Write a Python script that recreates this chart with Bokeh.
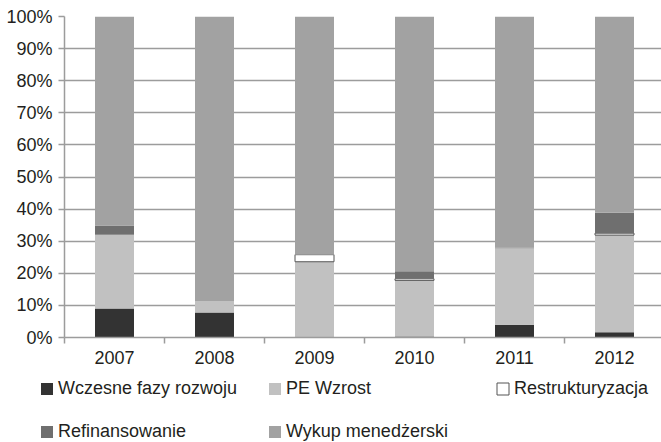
from bokeh.plotting import figure
from bokeh.layouts import column, row
from bokeh.models import (ColumnDataSource, FixedTicker, PrintfTickFormatter, Legend,
                          LegendItem, CDSView, BooleanFilter, Range1d)
from bokeh.embed import file_html
from bokeh.resources import INLINE

# ---- data (percent shares) ----
years = ["2007", "2008", "2009", "2010", "2011", "2012"]
wczesne = [9.0, 7.8, 0.0, 0.3, 4.0, 1.6]
pe_wzrost = [23.0, 3.6, 23.6, 17.5, 23.8, 30.3]
restrukturyzacja = [0.0, 0.0, 2.2, 0.5, 0.0, 0.6]
refinansowanie = [2.9, 0.0, 0.0, 2.3, 0.2, 6.4]
wykup = [65.1, 88.6, 74.2, 79.4, 72.0, 61.1]
y_ticks = [0, 10, 20, 30, 40, 50, 60, 70, 80, 90, 100]

series = [
    ("Wczesne fazy rozwoju", wczesne, "#333333"),
    ("PE Wzrost", pe_wzrost, "#c1c1c1"),
    ("Restrukturyzacja", restrukturyzacja, "#ffffff"),
    ("Refinansowanie", refinansowanie, "#6f6f6f"),
    ("Wykup menedżerski", wykup, "#a2a2a2"),
]

xs = list(range(1, len(years) + 1))
FONT = "Liberation Sans"
TXT = "#231f20"
GRID = "#9c9c9c"

p = figure(width=661, height=368, output_backend="svg", toolbar_location=None,
           x_range=Range1d(0.5, 6.47), y_range=Range1d(0, 100),
           min_border_left=64, min_border_right=0, min_border_top=16, min_border_bottom=31)
p.outline_line_color = None
p.xgrid.grid_line_color = None
p.ygrid.grid_line_color = GRID
p.ygrid.grid_line_width = 1.5
p.ygrid.ticker = FixedTicker(ticks=y_ticks)

# y axis
p.yaxis.ticker = FixedTicker(ticks=y_ticks)
p.yaxis.formatter = PrintfTickFormatter(format="%d%%")
p.yaxis.axis_line_color = GRID
p.yaxis.axis_line_width = 1.5
p.yaxis.major_tick_line_color = GRID
p.yaxis.major_tick_line_width = 1.5
p.yaxis.major_tick_out = 6
p.yaxis.major_tick_in = 0
p.yaxis.minor_tick_line_color = None
p.yaxis.major_label_standoff = 6
p.yaxis.major_label_text_font = FONT
p.yaxis.major_label_text_font_size = "18px"
p.yaxis.major_label_text_color = TXT

# x axis: labels at category centres, ticks at boundaries
p.xaxis.ticker = FixedTicker(ticks=xs, minor_ticks=[x - 0.5 for x in xs] + [xs[-1] + 0.5])
p.xaxis.major_label_overrides = {x: y for x, y in zip(xs, years)}
p.xaxis.axis_line_color = GRID
p.xaxis.axis_line_width = 1.5
p.xaxis.major_tick_line_color = None
p.xaxis.major_tick_out = 0
p.xaxis.major_tick_in = 0
p.xaxis.minor_tick_line_color = GRID
p.xaxis.minor_tick_line_width = 1.5
p.xaxis.minor_tick_out = 6
p.xaxis.minor_tick_in = 0
p.xaxis.major_label_standoff = 7
p.xaxis.major_label_text_font = FONT
p.xaxis.major_label_text_font_size = "18px"
p.xaxis.major_label_text_color = TXT

# legend panel as a second, axis-less figure
q = figure(width=661, height=74, output_backend="svg", toolbar_location=None,
           x_axis_location=None, y_axis_location=None,
           x_range=Range1d(0, 1), y_range=Range1d(0, 1),
           min_border=0, min_border_left=0, min_border_right=0,
           min_border_top=0, min_border_bottom=0)
q.outline_line_color = None
q.grid.grid_line_color = None

legend_renderers = {}
bottom = [0.0] * len(xs)
for name, vals, color in series:
    top = [b + v for b, v in zip(bottom, vals)]
    src = ColumnDataSource(dict(x=xs, bottom=bottom, top=top))
    line_color = "#555555" if name == "Restrukturyzacja" else None
    if name == "Restrukturyzacja":
        view = CDSView(filter=BooleanFilter([v > 0 for v in vals]))
        p.vbar(x="x", bottom="bottom", top="top", width=0.39, source=src, view=view,
               fill_color=color, line_color=line_color, line_width=1)
    else:
        p.vbar(x="x", bottom="bottom", top="top", width=0.39, source=src,
               fill_color=color, line_color=None)
    # hidden one-row stand-in (outside q's range) that only supplies the legend swatch
    stub = ColumnDataSource(dict(x=[-5], bottom=[-5], top=[-5]))
    legend_renderers[name] = q.vbar(x="x", bottom="bottom", top="top", width=0.1, source=stub,
                                    fill_color=color, line_color=line_color, line_width=1)
    bottom = top

order = ["Wczesne fazy rozwoju", "PE Wzrost", "Restrukturyzacja", "Refinansowanie", "Wykup menedżerski"]
legend = Legend(items=[LegendItem(label=n, renderers=[legend_renderers[n]]) for n in order],
                location=(39, 0), orientation="horizontal", ncols=3,
                glyph_width=15, glyph_height=15, label_standoff=4, spacing=22,
                label_width=187, label_height=20, padding=0, margin=0,
                border_line_color=None, background_fill_alpha=0,
                label_text_font=FONT, label_text_font_size="18px", label_text_color=TXT)
q.add_layout(legend)

layout = column(p, row(q, spacing=0), spacing=0)
open("out.html", "w").write(file_html(layout, INLINE))
